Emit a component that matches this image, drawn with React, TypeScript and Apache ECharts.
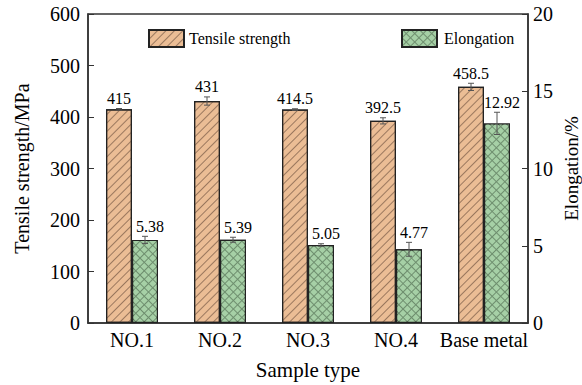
import React, { useEffect, useRef } from "react";
import * as echarts from "echarts";

const categories = ["NO.1", "NO.2", "NO.3", "NO.4", "Base metal"];
const tensile = [415, 431, 414.5, 392.5, 458.5];
const tensileErr = [1.5, 8, 1.5, 6, 7];
const elongation = [5.38, 5.39, 5.05, 4.77, 12.92];
const elongationErr = [0.23, 0.16, 0.08, 0.45, 0.72];
const tensileLabels = ["415", "431", "414.5", "392.5", "458.5"];
const elongationLabels = ["5.38", "5.39", "5.05", "4.77", "12.92"];

const FONT = "'Liberation Serif', 'Times New Roman', serif";
const BAR_W = 26;

function errorRenderer(offset: number, labels: string[], labelShift: number) {
  return (params: any, api: any) => {
    const i = api.value(0);
    const v = api.value(1);
    const e = api.value(2);
    const top = api.coord([i, v + e]);
    const bot = api.coord([i, v - e]);
    const x = top[0] + offset;
    const st = { stroke: "#555", lineWidth: 1 };
    return {
      type: "group",
      children: [
        { type: "line", shape: { x1: x, y1: top[1], x2: x, y2: bot[1] }, style: st },
        { type: "line", shape: { x1: x - 3, y1: top[1], x2: x + 3, y2: top[1] }, style: st },
        { type: "line", shape: { x1: x - 3, y1: bot[1], x2: x + 3, y2: bot[1] }, style: st },
        {
          type: "text",
          x: x + labelShift,
          y: top[1] - 2,
          style: {
            text: labels[params.dataIndex],
            fill: "#000",
            fontSize: 16,
            fontFamily: FONT,
            align: "center",
            verticalAlign: "bottom",
          },
        },
      ],
    };
  };
}

export default function App() {
  const ref = useRef<HTMLDivElement>(null);
  useEffect(() => {
    if (!ref.current) return;
    const chart = echarts.init(ref.current, null, { renderer: "svg" });
    const axisLine = { show: true, lineStyle: { color: "#333", width: 1.5 } };
    const legendText = { fontSize: 16, fontFamily: FONT, color: "#000" };
    chart.setOption({
      animation: false,
      backgroundColor: "#fff",
      textStyle: { fontFamily: FONT },
      grid: {
        left: 88,
        right: 54,
        top: 14,
        bottom: 62,
        show: true,
        borderColor: "#333",
        borderWidth: 1.5,
        containLabel: false,
        outerBoundsMode: "none",
      },
      legend: [
        {
          data: ["Tensile strength"],
          left: 143,
          top: 24,
          itemWidth: 35,
          itemHeight: 17,
          icon: "rect",
          textStyle: legendText,
        },
        {
          data: ["Elongation"],
          left: 396,
          top: 24,
          itemWidth: 35,
          itemHeight: 17,
          icon: "rect",
          textStyle: { ...legendText, padding: [0, 0, 0, 2] },
        },
      ],
      xAxis: {
        type: "category",
        data: categories,
        name: "Sample type",
        nameLocation: "middle",
        nameGap: 36,
        nameTextStyle: { fontSize: 21, fontFamily: FONT, color: "#000" },
        axisLine,
        axisTick: { show: false },
        axisLabel: { interval: 0, fontSize: 20, fontFamily: FONT, color: "#000", margin: 7 },
      },
      yAxis: [
        {
          type: "value",
          min: 0,
          max: 600,
          interval: 100,
          name: "Tensile strength/MPa",
          nameLocation: "middle",
          nameRotate: 90,
          nameGap: 56,
          nameTextStyle: { fontSize: 20, fontFamily: FONT, color: "#000" },
          axisLine,
          axisTick: { show: true, inside: true, length: 6, lineStyle: { color: "#333" } },
          axisLabel: { fontSize: 20, fontFamily: FONT, color: "#000", margin: 8 },
          splitLine: { show: false },
        },
        {
          type: "value",
          min: 0,
          max: 20,
          interval: 5,
          position: "right",
          name: "Elongation/%",
          nameLocation: "middle",
          nameRotate: 90,
          nameGap: 34,
          nameMoveOverlap: false,
          nameTextStyle: { fontSize: 19, lineHeight: 19, fontFamily: FONT, color: "#000" },
          axisLine,
          axisTick: { show: true, inside: true, length: 6, lineStyle: { color: "#333" } },
          axisLabel: { fontSize: 20, fontFamily: FONT, color: "#000", margin: 5 },
          splitLine: { show: false },
        },
      ],
      series: [
        {
          name: "Tensile strength",
          type: "bar",
          yAxisIndex: 0,
          data: tensile,
          barWidth: BAR_W,
          barGap: "0%",
          itemStyle: {
            color: "#EBBD95",
            borderColor: "#222",
            borderWidth: 1.2,
            decal: {
              symbol: "rect",
              symbolSize: 1,
              color: "rgba(120,90,70,0.7)",
              dashArrayX: [1, 0],
              dashArrayY: [1, 5],
              rotation: -Math.PI / 4,
            },
          },
        },
        {
          name: "Elongation",
          type: "bar",
          yAxisIndex: 1,
          data: elongation,
          barWidth: BAR_W,
          barGap: "0%",
          itemStyle: {
            color: "#6E8E6E",
            borderColor: "#222",
            borderWidth: 1.2,
            decal: {
              symbol: "rect",
              symbolSize: 1,
              color: "#A6D0A6",
              dashArrayX: [5, 1],
              dashArrayY: [5, 1],
              rotation: Math.PI / 4,
            },
          },
        },
        {
          type: "custom",
          yAxisIndex: 0,
          z: 5,
          data: tensile.map((v, i) => [i, v, tensileErr[i]]),
          renderItem: errorRenderer(-BAR_W / 2, tensileLabels, 0),
        },
        {
          type: "custom",
          yAxisIndex: 1,
          z: 5,
          data: elongation.map((v, i) => [i, v, elongationErr[i]]),
          renderItem: errorRenderer(BAR_W / 2, elongationLabels, 5),
        },
      ],
    });
    return () => chart.dispose();
  }, []);
  return <div ref={ref} style={{ width: 582, height: 385, position: "absolute", left: 0, top: 0 }} />;
}
